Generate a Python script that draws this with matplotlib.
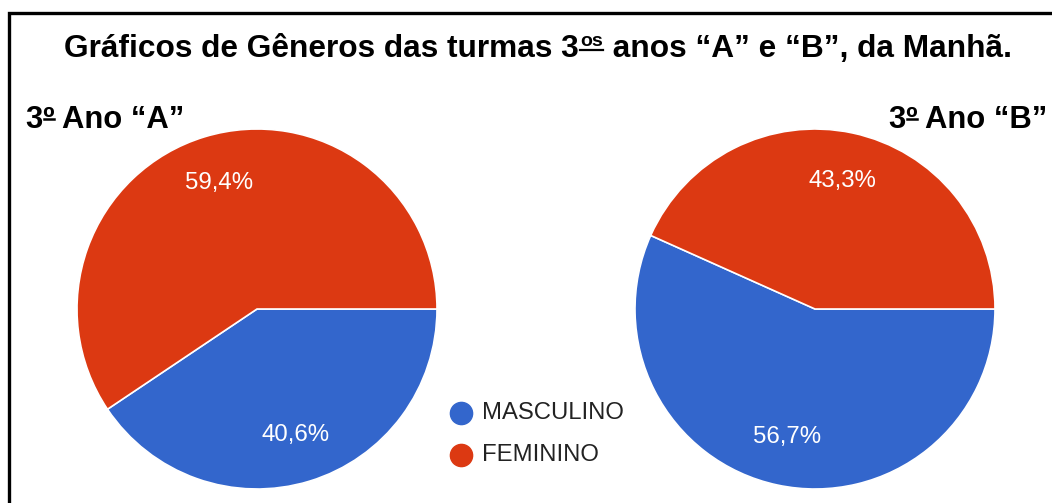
import matplotlib
matplotlib.use("Agg")
import matplotlib.pyplot as plt
from matplotlib.patches import Rectangle
from matplotlib.lines import Line2D

# ── DATA ──────────────────────────────────────────────
CATEGORIES = ["MASCULINO", "FEMININO"]
TURMA_A = [40.6, 59.4]
TURMA_B = [56.7, 43.3]
COLORS = ["#3366cc", "#dc3912"]

TITLE_LEFT = "Gráficos de Gêneros das turmas 3"
TITLE_SUP = "os"
TITLE_RIGHT = " anos “A” e “B”, da Manhã."
SUB_A = "3º Ano “A”"
SUB_B = "3º Ano “B”"

plt.rcParams["font.family"] = ["Liberation Sans", "DejaVu Sans"]

W, H = 1052, 503
fig = plt.figure(figsize=(W / 100, H / 100), dpi=100)
fig.patch.set_facecolor("white")


def fx(px):
    return px / W


def fy(py):
    return 1 - py / H


# frame (open to the right and bottom, as in the scan)
fig.add_artist(Rectangle((fx(9.5), fy(560)), fx(1200), (560 - 12.5) / H,
                         transform=fig.transFigure, fill=False,
                         edgecolor="black", linewidth=2.4))


def draw_pie(cx, values):
    r = 180
    ax = fig.add_axes([fx(cx - r), fy(309 + r), fx(2 * r), 2 * r / H])
    ax.pie(values, colors=COLORS, startangle=0, counterclock=False,
           autopct=lambda p: f"{p:.1f}%".replace(".", ","), pctdistance=0.73,
           wedgeprops=dict(edgecolor="white", linewidth=1.2),
           textprops=dict(color="white", fontsize=17.3))
    ax.set_xlim(-1, 1)
    ax.set_ylim(-1, 1)
    ax.set_aspect("auto")
    ax.axis("off")


draw_pie(257, TURMA_A)
draw_pie(815, TURMA_B)

renderer = fig.canvas.get_renderer()


def width_px(s, **kw):
    t = fig.text(0, 0, s, **kw)
    w = t.get_window_extent(renderer).width
    t.remove()
    return w


def underline(x0, x1, y, lw=1.6):
    fig.add_artist(Line2D([fx(x0), fx(x1)], [fy(y), fy(y)],
                          transform=fig.transFigure, color="black", linewidth=lw))


# title in pieces so the superscript can be underlined
title_kw = dict(fontsize=22.8, fontweight="bold", va="baseline")
sup_kw = dict(fontsize=14, fontweight="bold", va="baseline")
w1 = width_px(TITLE_LEFT, **title_kw)
w2 = width_px(TITLE_SUP, **sup_kw)
w3 = width_px(TITLE_RIGHT, **title_kw)
x0 = 537 - (w1 + w2 + w3) / 2
base = 57
fig.text(fx(x0), fy(base), TITLE_LEFT, **title_kw)
fig.text(fx(x0 + w1 + 1), fy(base - 11), TITLE_SUP, **sup_kw)
underline(x0 + w1 + 1, x0 + w1 + 1 + w2, 49.5)
fig.text(fx(x0 + w1 + w2 + 2), fy(base), TITLE_RIGHT, **title_kw)

# subtitles (with the underlined ordinal mark)
sub_kw = dict(fontsize=22.3, fontweight="bold", va="baseline")
w_three = width_px("3", **sub_kw)
w_ord = width_px("º", **sub_kw)
for xs, txt in [(26, SUB_A), (889, SUB_B)]:
    fig.text(fx(xs), fy(128), txt, **sub_kw)
    underline(xs + w_three + 1, xs + w_three + w_ord - 1, 118.5, lw=1.8)

# legend
for i, (cat, col) in enumerate(zip(CATEGORIES, COLORS)):
    y = 413 + i * 42
    fig.add_artist(Line2D([fx(461)], [fy(y)], marker="o", markersize=16, color=col,
                          linestyle="none", transform=fig.transFigure))
    fig.text(fx(482), fy(y), cat, fontsize=17.2, color="#222222", va="center")

fig.savefig("out.png", dpi=100)
